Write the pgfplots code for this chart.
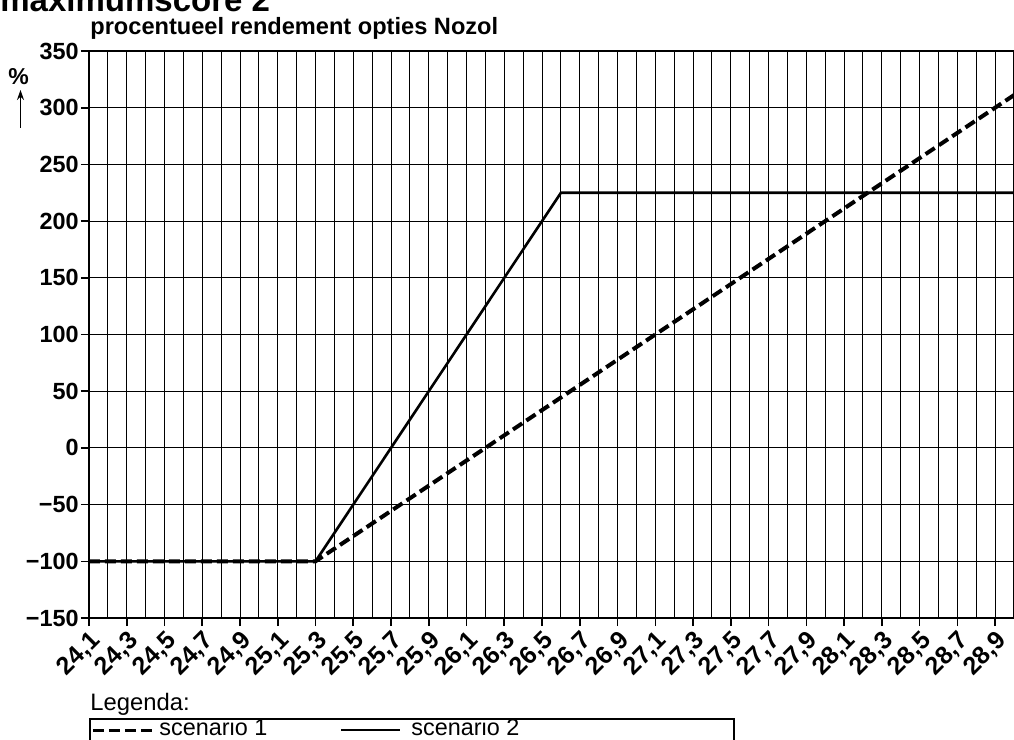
\documentclass[border=0pt]{standalone}
\usepackage{pgfplots}
\pgfplotsset{compat=1.18}
\usepackage{fontspec}
\setmainfont{Liberation Sans}
\usetikzlibrary{arrows.meta}
\begin{document}
\begin{tikzpicture}
\begin{axis}[
  at={(0,0)}, anchor=south west,
  scale only axis, width=462.5pt, height=283.5pt,
  xmin=24.1, xmax=29.0, ymin=-150, ymax=350,
  xtick={24.1,24.3,24.5,24.7,24.9,25.1,25.3,25.5,25.7,25.9,26.1,26.3,26.5,26.7,26.9,27.1,27.3,27.5,27.7,27.9,28.1,28.3,28.5,28.7,28.9},
  xticklabels={{24,1},{24,3},{24,5},{24,7},{24,9},{25,1},{25,3},{25,5},{25,7},{25,9},{26,1},{26,3},{26,5},{26,7},{26,9},{27,1},{27,3},{27,5},{27,7},{27,9},{28,1},{28,3},{28,5},{28,7},{28,9}},
  minor xtick={24.2,24.4,24.6,24.8,25.0,25.2,25.4,25.6,25.8,26.0,26.2,26.4,26.6,26.8,27.0,27.2,27.4,27.6,27.8,28.0,28.2,28.4,28.6,28.8,29.0},
  ytick={-150,-100,-50,0,50,100,150,200,250,300,350},
  yticklabels={−150,−100,−50,0,50,100,150,200,250,300,350},
  xtick pos=bottom, ytick pos=left,
  grid=both,
  major grid style={black, line width=0.5pt},
  minor grid style={black, line width=0.5pt},
  axis line style={black, line width=0.9pt},
  tick style={black, line width=0.8pt},
  tick align=outside,
  major tick length=4pt, minor tick length=0pt,
  yticklabel style={font=\fontsize{11.7}{14}\selectfont\bfseries, inner sep=1pt},
  xticklabel style={font=\fontsize{12.5}{15}\selectfont\bfseries, rotate=45, anchor=north east, inner sep=1pt},
  clip=true,
]
\addplot[black, line width=1.3pt] coordinates {(24.1,-100) (25.3,-100) (26.6,225) (29.0,225)};
\addplot[black, line width=2pt, dash pattern=on 5.5pt off 2.5pt] coordinates {(24.1,-100) (25.3,-100) (29.0,311.11)};
\end{axis}
% title and labels
\node[anchor=base west, inner sep=0, font=\fontsize{16.5}{19}\selectfont\bfseries] at (-44.5pt,303pt) {maximumscore 2};
\node[anchor=base west, inner sep=0, font=\fontsize{11.8}{14}\selectfont\bfseries] at (0.5pt,291.5pt) {procentueel rendement opties Nozol};
\node[inner sep=0, font=\fontsize{11.5}{13}\selectfont\bfseries] at (-35.25pt,270.75pt) {\%};
\draw[line width=0.5pt, -{Stealth[length=5pt,width=3.5pt]}] (-34.25pt,245pt) -- (-34.25pt,264pt);
% legend
\node[anchor=base west, inner sep=0, font=\fontsize{11.9}{14}\selectfont] at (0.5pt,-46pt) {Legenda:};
\draw[line width=0.7pt] (0.5pt,-75pt) -- (0.5pt,-50.5pt) -- (322.5pt,-50.5pt) -- (322.5pt,-75pt);
\draw[line width=1.5pt, dash pattern=on 5.5pt off 2.5pt] (2pt,-56pt) -- (31.5pt,-56pt);
\node[anchor=base west, inner sep=0, font=\fontsize{11.7}{14}\selectfont] at (35pt,-59pt) {scenario 1};
\draw[line width=0.8pt] (126pt,-56pt) -- (155.5pt,-56pt);
\node[anchor=base west, inner sep=0, font=\fontsize{11.7}{14}\selectfont] at (161pt,-59pt) {scenario 2};
\pgfresetboundingbox
\useasboundingbox (-44.5pt,-61pt) rectangle (462.5pt,309pt);
\end{tikzpicture}
\end{document}
